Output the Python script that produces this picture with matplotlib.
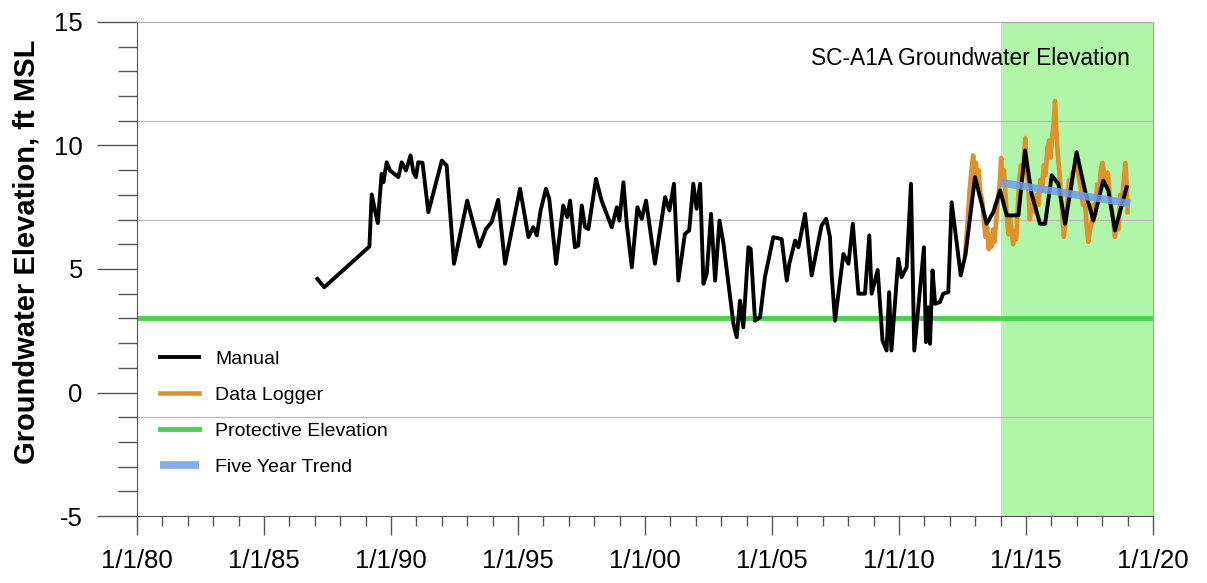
import matplotlib
matplotlib.use("Agg")
import matplotlib.pyplot as plt
from matplotlib.ticker import MultipleLocator

# Manual readings (decimal year, ft MSL)
manual_year = [1987.10, 1987.37, 1989.15, 1989.24, 1989.37, 1989.48, 1989.63, 1989.70, 1989.83, 1989.96,
               1990.29, 1990.42, 1990.59, 1990.77, 1990.88, 1990.98, 1991.07, 1991.24, 1991.47, 1992.00,
               1992.19, 1992.48, 1993.00, 1993.48, 1993.74, 1993.96, 1994.22, 1994.49, 1995.08, 1995.41,
               1995.60, 1995.74, 1995.89, 1996.10, 1996.23, 1996.50, 1996.78, 1996.94, 1997.05, 1997.24,
               1997.37, 1997.51, 1997.64, 1997.77, 1998.07, 1998.29, 1998.69, 1998.89, 1998.99, 1999.15,
               1999.28, 1999.48, 1999.70, 1999.87, 2000.04, 2000.39, 2000.79, 2000.96, 2001.14, 2001.31,
               2001.57, 2001.74, 2001.90, 2002.03, 2002.17, 2002.30, 2002.43, 2002.60, 2002.76, 2002.93,
               2003.09, 2003.48, 2003.61, 2003.74, 2003.87, 2004.07, 2004.16, 2004.33, 2004.53, 2004.72,
               2005.05, 2005.38, 2005.58, 2005.68, 2005.91, 2006.04, 2006.30, 2006.56, 2006.95, 2007.13,
               2007.28, 2007.35, 2007.48, 2007.81, 2008.01, 2008.18, 2008.40, 2008.66, 2008.83, 2008.92,
               2009.16, 2009.35, 2009.51, 2009.61, 2009.70, 2009.97, 2010.10, 2010.30, 2010.47, 2010.60,
               2010.98, 2011.06, 2011.15, 2011.22, 2011.32, 2011.42, 2011.61, 2011.74, 2011.94, 2012.07,
               2012.43, 2012.62, 2012.99, 2013.45, 2013.71, 2013.98, 2014.24, 2014.70, 2014.96, 2015.22,
               2015.55, 2015.75, 2016.01, 2016.27, 2016.54, 2016.99, 2017.32, 2017.65, 2018.04, 2018.24,
               2018.50, 2018.96]
manual_elev = [4.60, 4.26, 5.91, 8.02, 7.37, 6.86, 8.85, 8.51, 9.32, 8.99,
               8.72, 9.32, 8.99, 9.60, 8.92, 8.72, 9.32, 9.30, 7.30, 9.39,
               9.19, 5.21, 7.77, 5.91, 6.62, 6.90, 7.80, 5.21, 8.25, 6.29,
               6.69, 6.36, 7.37, 8.25, 7.84, 5.21, 7.57, 7.10, 7.77, 5.88,
               5.95, 7.57, 6.69, 6.62, 8.65, 7.77, 6.69, 7.50, 6.96, 8.51,
               6.83, 5.07, 7.50, 7.03, 7.77, 5.21, 7.91, 7.37, 8.45, 4.53,
               6.42, 6.56, 8.45, 7.44, 8.45, 4.40, 4.80, 7.23, 4.53, 6.96,
               6.02, 2.78, 2.24, 3.72, 2.64, 5.88, 5.81, 2.91, 3.05, 4.67,
               6.29, 6.21, 4.53, 5.21, 6.15, 5.88, 7.23, 4.74, 6.76, 7.03,
               6.29, 4.74, 2.91, 5.61, 5.21, 6.83, 4.00, 4.00, 6.36, 4.00,
               4.96, 2.10, 1.70, 4.06, 1.70, 5.41, 4.67, 5.07, 8.45, 1.70,
               5.88, 2.04, 3.45, 1.97, 4.94, 3.59, 3.66, 4.00, 4.06, 7.70,
               4.74, 5.61, 8.72, 6.83, 7.30, 8.18, 7.17, 7.17, 9.80, 8.04,
               6.83, 6.83, 8.79, 8.45, 6.83, 9.73, 8.18, 6.96, 8.58, 8.18,
               6.56, 8.31]

# Data logger readings
logger_year = [2012.60, 2012.70, 2012.78, 2012.86, 2012.92, 2012.97, 2013.03, 2013.08, 2013.14, 2013.20,
               2013.27, 2013.34, 2013.40, 2013.47, 2013.53, 2013.58, 2013.64, 2013.70, 2013.76, 2013.83,
               2013.90, 2013.96, 2014.02, 2014.07, 2014.13, 2014.19, 2014.25, 2014.31, 2014.37, 2014.43,
               2014.49, 2014.55, 2014.61, 2014.67, 2014.73, 2014.80, 2014.86, 2014.92, 2014.97, 2015.03,
               2015.09, 2015.15, 2015.21, 2015.28, 2015.35, 2015.42, 2015.49, 2015.56, 2015.63, 2015.70,
               2015.77, 2015.84, 2015.91, 2015.97, 2016.03, 2016.09, 2016.14, 2016.19, 2016.25, 2016.31,
               2016.37, 2016.43, 2016.49, 2016.55, 2016.62, 2016.69, 2016.76, 2016.83, 2016.90, 2016.96,
               2017.03, 2017.10, 2017.17, 2017.24, 2017.31, 2017.38, 2017.45, 2017.52, 2017.59, 2017.66,
               2017.73, 2017.80, 2017.87, 2017.94, 2018.01, 2018.08, 2018.15, 2018.22, 2018.29, 2018.36,
               2018.43, 2018.50, 2018.57, 2018.64, 2018.71, 2018.78, 2018.85, 2018.91, 2018.96, 2019.00]
logger_elev = [5.6, 6.9, 8.2, 9.1, 9.6, 8.7, 9.3, 8.5, 9.0, 8.1,
               7.8, 7.0, 6.3, 6.7, 5.8, 6.3, 5.9, 6.6, 6.1, 7.0,
               7.9, 8.4, 9.5, 8.6, 9.0, 8.0, 7.0, 6.4, 7.1, 6.6,
               6.0, 6.5, 6.2, 7.4, 8.6, 9.2, 8.8, 9.6, 10.3, 9.0,
               8.4, 7.0, 7.6, 7.9, 7.3, 8.0, 7.6, 8.6, 8.2, 9.2,
               8.8, 9.9, 10.2, 9.5, 10.4, 10.9, 11.8, 10.6, 9.6, 9.0,
               8.0, 7.2, 6.3, 6.9, 7.6, 8.6, 8.2, 8.9, 9.0, 9.5,
               9.1, 8.6, 8.2, 7.6, 7.9, 6.8, 6.1, 6.6, 6.9, 7.6,
               7.2, 8.4, 8.0, 9.0, 9.3, 8.8, 8.6, 8.9, 8.0, 7.5,
               7.0, 6.3, 6.9, 6.6, 8.0, 7.7, 8.6, 9.3, 8.4, 7.3]

trend_year = [2014.0, 2019.1]
trend_elev = [8.5, 7.65]

protective_elev = 3.0
window_start, window_end = 2014.0, 2020.0
ref_levels = [11, 7, -1]

xticks = [1980, 1985, 1990, 1995, 2000, 2005, 2010, 2015, 2020]
xlabels = ["1/1/80", "1/1/85", "1/1/90", "1/1/95", "1/1/00", "1/1/05", "1/1/10", "1/1/15", "1/1/20"]

plt.rcParams["font.family"] = ["Liberation Sans", "DejaVu Sans"]
plt.rcParams["axes.unicode_minus"] = False

fig = plt.figure(figsize=(12.07, 5.83), dpi=100)
ax = fig.add_axes([0.1135, 0.1149, 0.8418, 0.8474])

ax.axvspan(window_start, window_end, color="#b0f5a8", zorder=0, lw=0)
for lv in ref_levels:
    ax.axhline(lv, color="#bdbdbd", lw=1, zorder=1)

ax.axhline(protective_elev, color="#4fcf4f", lw=3.5, zorder=2, label="Protective Elevation")
ax.plot(logger_year, logger_elev, color="#e0922a", lw=3.3, zorder=3, label="Data Logger")
ax.plot(manual_year, manual_elev, color="black", lw=2.8, zorder=4, label="Manual")
ax.plot(trend_year, trend_elev, color="#6f9de8", lw=5.5, alpha=0.85, zorder=5,
        solid_capstyle="butt", label="Five Year Trend")

ax.set_xlim(1980, 2020)
ax.set_ylim(-5, 15)
ax.set_xticks(xticks)
ax.set_xticklabels(xlabels)
ax.xaxis.set_minor_locator(MultipleLocator(1))
ax.set_yticks([-5, 0, 5, 10, 15])
ax.yaxis.set_minor_locator(MultipleLocator(1))

ax.tick_params(axis="x", which="major", length=14, width=1, color="#555555", pad=10, labelsize=18.5)
ax.tick_params(axis="x", which="minor", length=7, width=1, color="#555555")
ax.tick_params(axis="y", which="major", length=29, width=1, color="#555555", pad=10, labelsize=18.5)
ax.tick_params(axis="y", which="minor", length=14, width=1, color="#555555")

for s in ["left", "bottom"]:
    ax.spines[s].set_color("#555555")
for s in ["top", "right"]:
    ax.spines[s].set_color("#aaaaaa")

ax.set_ylabel("Groundwater Elevation, ft MSL", fontsize=21, fontweight="bold")
ax.yaxis.set_label_coords(-0.095, 0.535)

ax.text(0.977, 0.927, "SC-A1A Groundwater Elevation", transform=ax.transAxes,
        ha="right", va="center", fontsize=16.4)

h, l = ax.get_legend_handles_labels()
order = ["Manual", "Data Logger", "Protective Elevation", "Five Year Trend"]
hh = [h[l.index(o)] for o in order]
ax.legend(hh, order, loc="upper left", bbox_to_anchor=(0.0226, 0.336), frameon=False,
          borderpad=0, borderaxespad=0, handlelength=2.0, handletextpad=0.85,
          labelspacing=0.95, prop={"family": "Liberation Sans", "size": 14})

fig.savefig("out.png", dpi=100)
